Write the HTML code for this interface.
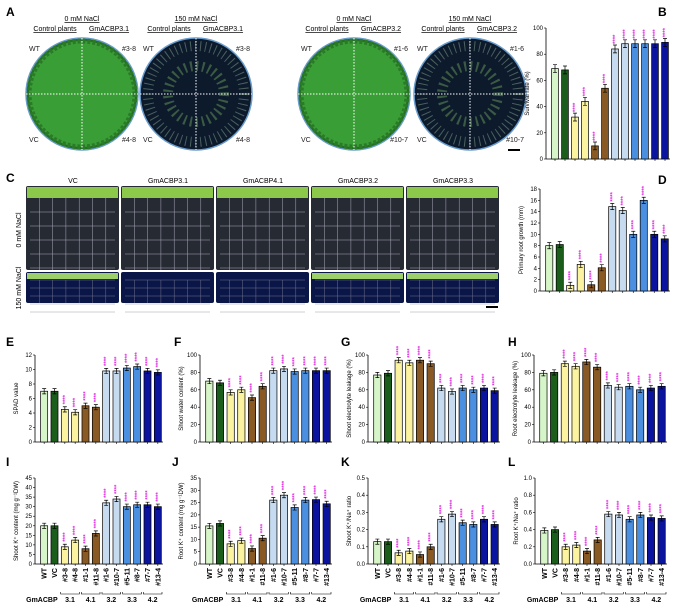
<!DOCTYPE html>
<html><head><meta charset="utf-8"><style>
body{margin:0;background:#fff;}
svg{display:block;font-family:"Liberation Sans",sans-serif;}
</style></head><body>
<svg id="fig" width="683" height="603" viewBox="0 0 683 603">
<g id="photos"></g>
<g id="charts"></g>
</svg>
<script>
// ---- data ----
const lines = ["WT","VC","#3-8","#4-8","#1-1","#11-8","#1-6","#10-7","#5-11","#8-7","#7-7","#13-4"];
const groups = ["3.1","4.1","3.2","3.3","4.2"];
const survival = [69,68,32,44,10,54,84,88,88,88,88,89];
const rootGrowth = [8,8.2,1,4.7,1.1,4.1,14.9,14.2,10,16,10,9.2];
const spad = [7,7,4.5,4.1,5,4.8,9.8,9.8,10.2,10.4,9.8,9.6];
const shootWater = [70,68,57,60,51,64,82,84,81,82,82,82];
const shootLeak = [77,79,94,91,94,90,62,58,62,60,62,59];
const rootLeak = [79,80,90,87,92,86,65,63,64,60,62,64];
const shootK = [20,20,9,12.5,8,16,32,34,30,31,31,30];
const rootK = [15.5,16.5,8.2,9.5,6.3,10.5,26,28,23,26,26.2,24.5];
const shootRatio = [0.13,0.13,0.065,0.075,0.055,0.1,0.26,0.29,0.24,0.23,0.26,0.23];
const rootRatio = [0.39,0.40,0.20,0.22,0.15,0.28,0.58,0.57,0.52,0.57,0.54,0.53];
const colors = ["#d6f5c8","#1b5e1b","#fbf3a0","#fbf3a0","#8a5a24","#8a5a24","#c6daf0","#c6daf0","#4b8fe0","#4b8fe0","#0b149e","#0b149e"];
const NS="http://www.w3.org/2000/svg";
function el(t,a,p){const e=document.createElementNS(NS,t);for(const k in a)e.setAttribute(k,a[k]);p.appendChild(e);return e;}
function txt(s,a,p){const e=el('text',a,p);e.textContent=s;return e;}
const photos=document.getElementById('photos');
const charts=document.getElementById('charts');

// ---- Panel A ----
let t=txt('A',{x:6,y:16,'font-size':12,'font-weight':'bold'},photos);

const dishes=[{cx:82,salt:false,lab:'GmACBP3.1',a:'#3-8',b:'#4-8'},{cx:196,salt:true,lab:'GmACBP3.1',a:'#3-8',b:'#4-8'},{cx:354,salt:false,lab:'GmACBP3.2',a:'#1-6',b:'#10-7'},{cx:470,salt:true,lab:'GmACBP3.2',a:'#1-6',b:'#10-7'}];
dishes.forEach((d,i)=>{
  const g=el('g',{},photos);
  
  
  const cy=94,r=56;
  el('circle',{cx:d.cx,cy:cy,r:r,fill:d.salt?'#0c1a2c':'#256f24',stroke:'#6a9ccc','stroke-width':1.5},g);
  if(!d.salt){el('circle',{cx:d.cx,cy:cy,r:r-3,fill:'#3a9e36',stroke:'#2a7a28','stroke-width':5,'stroke-dasharray':'3 2'},g);}
  else{el('circle',{cx:d.cx,cy:cy,r:r-8,fill:'none',stroke:'#8aa890','stroke-width':10,'stroke-dasharray':'1 4',opacity:0.5},g);
       el('circle',{cx:d.cx,cy:cy,r:r-28,fill:'none',stroke:'#6a9a5a','stroke-width':10,'stroke-dasharray':'2 4',opacity:0.5},g);}
  el('line',{x1:d.cx-r,y1:cy,x2:d.cx+r,y2:cy,stroke:'#fff','stroke-width':1,'stroke-dasharray':'1.5 1.5'},g);
  el('line',{x1:d.cx,y1:cy-r,x2:d.cx,y2:cy+r,stroke:'#fff','stroke-width':1,'stroke-dasharray':'1.5 1.5'},g);
  txt(d.salt?'150 mM NaCl':'0 mM NaCl',{x:d.cx,y:21,'font-size':7,'text-anchor':'middle','text-decoration':'underline'},g);
  txt('Control plants',{x:d.cx-27,y:31,'font-size':7,'text-anchor':'middle','text-decoration':'underline'},g);
  txt(d.lab,{x:d.cx+27,y:31,'font-size':7,'text-anchor':'middle','text-decoration':'underline'},g);
  txt('WT',{x:d.cx-53,y:51,'font-size':7,fill:'#222'},g);
  txt('VC',{x:d.cx-53,y:142,'font-size':7,fill:'#222'},g);
  txt(d.a,{x:d.cx+54,y:51,'font-size':7,'text-anchor':'end',fill:'#222'},g);
  txt(d.b,{x:d.cx+54,y:142,'font-size':7,'text-anchor':'end',fill:'#222'},g);
});
el('rect',{x:508,y:149,width:12,height:2,fill:'#000'},photos);

// ---- Panel C ----
t=txt('C',{x:6,y:182,'font-size':12,'font-weight':'bold'},photos);

const cLabels=['VC','GmACBP3.1','GmACBP4.1','GmACBP3.2','GmACBP3.3'];
cLabels.forEach((l,i)=>{
  const x=26+i*95,g=el('g',{},photos);
  
  
  txt(l,{x:x+47,y:183,'font-size':7,'text-anchor':'middle'},g);
  el('rect',{x:x,y:186,width:93,height:84,rx:2,fill:'#262a33'},g);
  el('rect',{x:x+1,y:187,width:91,height:11,fill:'#8cc84a'},g);
  el('rect',{x:x,y:272,width:93,height:31,rx:2,fill:'#0b1648'},g);
  if(i==0||i>=3) el('rect',{x:x+1,y:273,width:91,height:6,fill:'#9ccf6a'},g);
  for(let k=1;k<6;k++){
    el('line',{x1:x+4,x2:x+89,y1:198+k*14,y2:198+k*14,stroke:'#aab','stroke-width':0.5},g);
    el('line',{x1:x+4,x2:x+89,y1:272+k*8,y2:272+k*8,stroke:'#889','stroke-width':0.4},g);
  }
  for(let k=1;k<7;k++){
    el('line',{x1:x+k*13.3,x2:x+k*13.3,y1:198,y2:270,stroke:'#aab','stroke-width':0.5},g);
    el('line',{x1:x+k*13.3,x2:x+k*13.3,y1:280,y2:303,stroke:'#889','stroke-width':0.4},g);
  }
});
txt('0 mM NaCl',{x:0,y:0,'font-size':7,'text-anchor':'middle',transform:'translate(21,230) rotate(-90)'},photos);
txt('150 mM NaCl',{x:0,y:0,'font-size':7,'text-anchor':'middle',transform:'translate(21,288) rotate(-90)'},photos);
el('rect',{x:486,y:306,width:12,height:2,fill:'#000'},photos);

// ---- bar chart helper ----
function chart(o){
  const g=el('g',{},charts);
  
  
  txt(o.letter,{x:o.lx,y:o.ly,'font-size':12,'font-weight':'bold'},g);
  const yS=v=>o.y0-(v/o.max)*(o.y0-o.y1);
  el('line',{x1:o.x0,x2:o.x0,y1:o.y1,y2:o.y0,stroke:'#000','stroke-width':0.8},g);
  el('line',{x1:o.x0,x2:o.x1,y1:o.y0,y2:o.y0,stroke:'#000','stroke-width':0.8},g);
  for(let v=0;v<=o.max+1e-9;v+=o.step){
    const y=yS(v);
    el('line',{x1:o.x0-2,x2:o.x0,y1:y,y2:y,stroke:'#000','stroke-width':0.6},g);
    txt(o.fmt?o.fmt(v):String(Math.round(v*100)/100),{x:o.x0-3,y:y+2,'font-size':6,'text-anchor':'end'},g);
  }
  const ycy=(o.y0+o.y1)/2;
  txt(o.ytitle,{x:0,y:0,'font-size':6,'text-anchor':'middle',transform:`translate(${o.x0-17},${ycy}) rotate(-90)`},g);
  const slot=(o.x1-o.x0-4)/o.data.length;
  o.data.forEach((v,i)=>{
    const cx=o.x0+4+slot*(i+0.5),bw=slot*0.68,y=yS(v);
    const b=el('rect',{x:cx-bw/2,y:y,width:bw,height:o.y0-y,fill:colors[i],stroke:'#000','stroke-width':0.7},g);
    
    
    const e=(o.y0-o.y1)*0.03;
    el('path',{d:`M${cx},${y-e}V${y+e}M${cx-2},${y-e}H${cx+2}M${cx-2},${y+e}H${cx+2}`,stroke:'#000','stroke-width':0.7,fill:'none'},g);
    el('line',{x1:cx,x2:cx,y1:o.y0,y2:o.y0+2,stroke:'#000','stroke-width':0.6},g);
    if(i>=2){
      txt('****',{x:0,y:0,'font-size':6,'font-weight':'bold',fill:'#e030e0',transform:`translate(${cx+2},${y-5}) rotate(-90)`},g);
    }
    if(o.xlabels){
      txt(lines[i],{x:0,y:0,'font-size':7,'font-weight':'bold','text-anchor':'end',transform:`translate(${cx+2.5},${o.y0+4}) rotate(-90)`},g);
    }
  });
  if(o.xlabels){
    const gy=o.y0+30;
    txt('GmACBP',{x:o.x0+4+slot*2-2,y:gy+8,'font-size':7,'font-weight':'bold','text-anchor':'end'},g);
    groups.forEach((gn,k)=>{
      const a=o.x0+4+slot*(2+2*k)+1,b=a+slot*2-2;
      el('path',{d:`M${a},${gy-2}V${gy}H${b}V${gy-2}`,stroke:'#000','stroke-width':0.6,fill:'none'},g);
      txt(gn,{x:(a+b)/2,y:gy+8,'font-size':7,'font-weight':'bold','text-anchor':'middle'},g);
    });
  }
}
chart({name:'survival-rate-chart',letter:'B',lx:658,ly:16,data:survival,max:100,step:20,x0:546,x1:670,y0:159,y1:28,ytitle:'Survival rate (%)'});
chart({name:'primary-root-growth-chart',letter:'D',lx:658,ly:184,data:rootGrowth,max:18,step:2,x0:540,x1:670,y0:291,y1:189,ytitle:'Primary root growth (mm)'});
chart({name:'spad-chart',letter:'E',lx:6,ly:346,data:spad,max:12,step:2,x0:35,x1:163,y0:442,y1:355,ytitle:'SPAD value'});
chart({name:'shoot-water-chart',letter:'F',lx:174,ly:346,data:shootWater,max:100,step:20,x0:200,x1:332,y0:442,y1:355,ytitle:'Shoot water content (%)'});
chart({name:'shoot-leakage-chart',letter:'G',lx:341,ly:346,data:shootLeak,max:100,step:20,x0:368,x1:500,y0:442,y1:355,ytitle:'Shoot electrolyte leakage (%)'});
chart({name:'root-leakage-chart',letter:'H',lx:508,ly:346,data:rootLeak,max:100,step:20,x0:534,x1:667,y0:442,y1:355,ytitle:'Root electrolyte leakage (%)'});
chart({name:'shoot-k-chart',letter:'I',lx:6,ly:466,data:shootK,max:45,step:5,x0:35,x1:163,y0:564,y1:478,ytitle:'Shoot K⁺ content (mg g⁻¹DW)',xlabels:true});
chart({name:'root-k-chart',letter:'J',lx:172,ly:466,data:rootK,max:35,step:5,x0:200,x1:332,y0:564,y1:478,ytitle:'Root K⁺ content (mg g⁻¹DW)',xlabels:true});
chart({name:'shoot-ratio-chart',letter:'K',lx:341,ly:466,data:shootRatio,max:0.5,step:0.1,x0:368,x1:500,y0:564,y1:478,ytitle:'Shoot K⁺/Na⁺ ratio',xlabels:true,fmt:v=>v.toFixed(1)});
chart({name:'root-ratio-chart',letter:'L',lx:508,ly:466,data:rootRatio,max:1,step:0.2,x0:535,x1:667,y0:564,y1:478,ytitle:'Root K⁺/Na⁺ ratio',xlabels:true,fmt:v=>v.toFixed(1)});
</script>
</body></html>
